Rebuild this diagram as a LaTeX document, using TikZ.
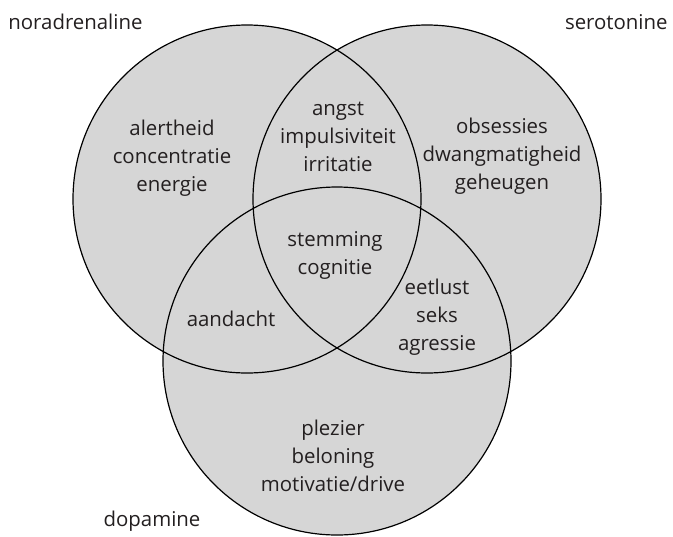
\documentclass[tikz,border=0pt]{standalone}
\usepackage{fontspec}
\setmainfont{Open Sans}
\usetikzlibrary{positioning}

\definecolor{vennfill}{RGB}{214,214,214}
\definecolor{venntext}{RGB}{35,31,32}

\begin{document}
\begin{tikzpicture}[x=0.5pt, y=-0.5pt,
    lbl/.style={align=center, text=venntext, inner sep=0pt,
        font=\fontsize{10.2}{14}\selectfont},
    rim/.style={draw=black, line width=0.6pt}]
        \useasboundingbox (0, 0) rectangle (673, 536);

        % centres of the three circles
        \coordinate (nor) at (247, 199);
        \coordinate (ser) at (427, 199);
        \coordinate (dop) at (337, 361);

        \fill[vennfill] (nor) circle[radius=87pt] (ser) circle[radius=87pt] (dop) circle[radius=87pt];
        \draw[rim] (nor) circle[radius=87pt];
        \draw[rim] (ser) circle[radius=87pt];
        \draw[rim] (dop) circle[radius=87pt];

        % names of the transmitters
        \node[lbl, anchor=west] (nname) at (8, 22) {noradrenaline};
        \node[lbl, anchor=east] (sname) at (668, 22) {serotonine};
        \node[lbl] (dname) at (152, 521) {dopamine};

        % functions
        \node[lbl] (nonly) at (172, 158) {alertheid\\concentratie\\energie};
        \node[lbl] (ns) at (338, 137) {angst\\impulsiviteit\\irritatie};
        \node[lbl] (sonly) at (502, 156) {obsessies\\dwangmatigheid\\geheugen};
        \node[lbl] (all) at (335, 255) {stemming\\cognitie};
        \node[lbl] (nd) at (231, 319) {aandacht};
        \node[lbl] (sd) at (437, 317) {eetlust\\seks\\agressie};
        \node[lbl] (donly) at (333, 456) {plezier\\beloning\\motivatie/drive};
    \end{tikzpicture}
\end{document}
